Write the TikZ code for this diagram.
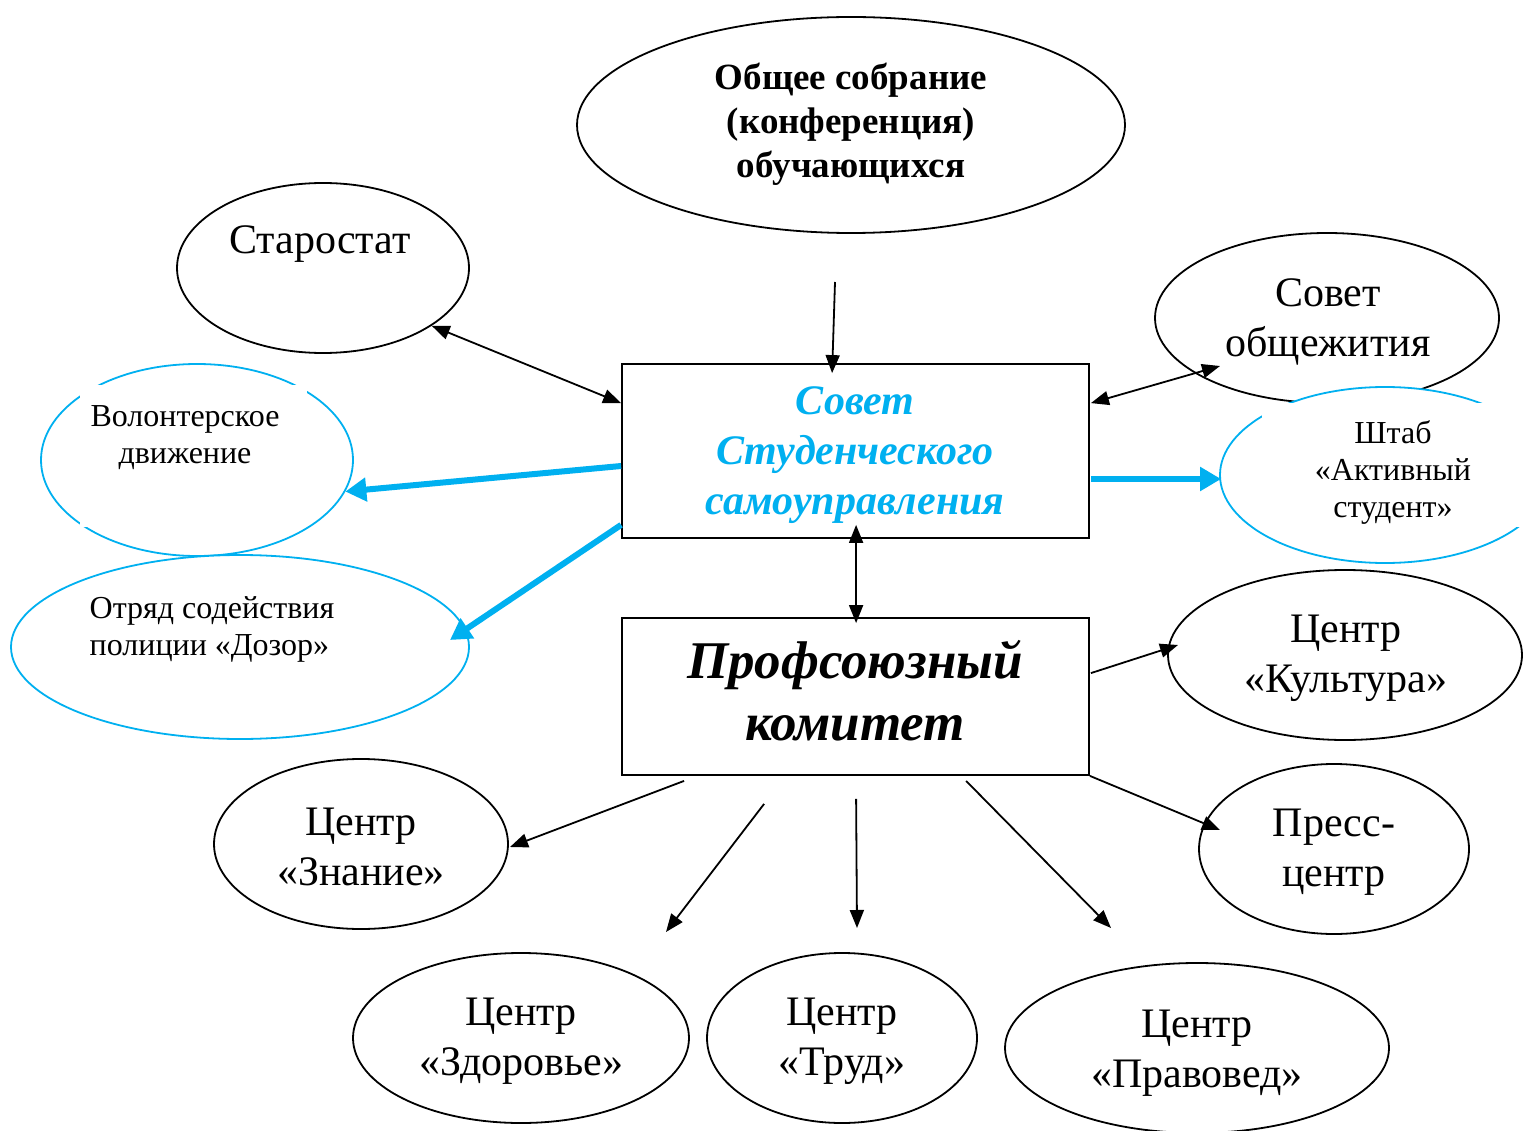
\documentclass[tikz,border=0pt]{standalone}
\usepackage{fontspec}
\setmainfont{Liberation Serif}
\usetikzlibrary{shapes.geometric,arrows.meta,calc}
\definecolor{sky}{RGB}{0,176,240}
\begin{document}
\begin{tikzpicture}[x=1pt,y=-1pt,
  ell/.style={ellipse,draw=black,fill=white,line width=1.8pt,inner sep=0pt},
  bell/.style={ellipse,draw=sky,fill=white,line width=1.8pt,inner sep=0pt},
  boxn/.style={draw=black,fill=white,line width=1.8pt,inner sep=0pt},
  txt/.style={font=\fontsize{42}{50}\selectfont,align=center,inner sep=0pt},
  smalltxt/.style={font=\fontsize{32}{37}\selectfont,align=center,inner sep=0pt},
  conn/.style={line width=1.8pt,-{Triangle[length=18pt,width=14pt]}},
  biconn/.style={line width=1.8pt,{Triangle[length=18pt,width=14pt]}-{Triangle[length=18pt,width=14pt]}},
  bconn/.style={line width=6pt,draw=sky,-{Triangle[length=21pt,width=23pt]}}
]
\clip (0,0) rectangle (1523,1131);
\fill[white] (0,0) rectangle (1523,1131);

% ellipses
\node[ell,minimum width=548pt,minimum height=216pt] (gen) at (851,125) {};
\node[ell,minimum width=292pt,minimum height=170pt] (star) at (323,268) {};
\node[ell,minimum width=344pt,minimum height=170pt] (sob) at (1327,318) {};
\node[bell,minimum width=312pt,minimum height=192pt] (vol) at (197,460) {};
\node[bell,minimum width=330pt,minimum height=176pt] (sht) at (1385,475) {};
\node[bell,minimum width=458pt,minimum height=184pt] (doz) at (240,647) {};
\node[ell,minimum width=354pt,minimum height=170pt] (kult) at (1345,655) {};
\node[ell,minimum width=270pt,minimum height=170pt] (press) at (1334,849) {};
\node[ell,minimum width=294pt,minimum height=170pt] (zn) at (361,844) {};
\node[ell,minimum width=336pt,minimum height=170pt] (zdr) at (521,1038) {};
\node[ell,minimum width=270pt,minimum height=170pt] (trud) at (842,1038) {};
\node[ell,minimum width=384pt,minimum height=170pt] (prav) at (1197,1048) {};

% text-box masks
\fill[white] (80,385) rectangle (307,527);
\fill[white] (1262,403) rectangle (1530,527);

% boxes
\node[boxn,minimum width=467pt,minimum height=174pt] (ssu) at (855.5,451) {};
\node[boxn,minimum width=467pt,minimum height=157pt] (pk) at (855.5,696.5) {};

% texts
\node[txt,font=\fontsize{37}{44}\selectfont\bfseries] (tgen) at (851,124.5) {Общее собрание\\(конференция)\\обучающихся};
\node[txt] (tstar) at (320,244) {Старостат};
\node[txt] (tsob) at (1328,322) {Совет\\общежития};
\node[smalltxt] (tvol) at (185,438) {Волонтерское\\движение};
\node[smalltxt] (tsht) at (1393,472) {Штаб\\«Активный\\студент»};
\node[smalltxt,align=left] (tdoz) at (212,629) {Отряд содействия\\полиции «Дозор»};
\node[txt,text=sky,font=\fontsize{42}{50}\selectfont\bfseries\itshape] (tssu) at (855,455) {Совет\\Студенческого\\самоуправления};
\node[txt,font=\fontsize{53}{62}\selectfont\bfseries\itshape] (tpk) at (855,691) {Профсоюзный\\комитет};
\node[txt] (tkult) at (1346,658) {Центр\\«Культура»};
\node[txt] (tpress) at (1334,852) {Пресс-\\центр};
\node[txt] (tzn) at (361,847) {Центр\\«Знание»};
\node[txt] (tzdr) at (521,1041) {Центр\\«Здоровье»};
\node[txt] (ttrud) at (842,1041) {Центр\\«Труд»};
\node[txt] (tprav) at (1197,1053) {Центр\\«Правовед»};

% connectors
\coordinate (a0) at (835,282);
\draw[conn] (a0) -- ($(ssu.north west)+(211,10)$);
\draw[biconn] (star.-28) -- ($(ssu.north west)+(0,40)$);
\draw[biconn] ($(ssu.north east)+(1,40)$) -- ($(sob.center)+(-107,48)$);
\draw[bconn] ($(ssu.west)+(0,15)$) -- (vol.-12);
\draw[bconn] ($(ssu.south west)+(0,-14)$) -- ($(doz.center)+(210,-7)$);
\draw[bconn] ($(ssu.east)+(1,28)$) -- ($(sht.west)+(2,4)$);
\draw[biconn] ($(ssu.south west)+(235,-14)$) -- ($(pk.north west)+(235,6)$);
\draw[conn] ($(pk.north east)+(1,56)$) -- ($(kult.center)+(-167,-10)$);
\draw[conn] (pk.south east) -- ($(press.center)+(-114,-19)$);
\draw[conn] ($(pk.south west)+(63,5)$) -- ($(zn.center)+(149,3)$);
\draw[conn] ($(pk.south west)+(143,28)$) -- ($(zdr.center)+(145,-106)$);
\draw[conn] ($(pk.south west)+(235,23)$) -- ($(trud.center)+(15,-110)$);
\draw[conn] ($(pk.south west)+(345,5)$) -- ($(prav.center)+(-86,-120)$);
\end{tikzpicture}
\end{document}
